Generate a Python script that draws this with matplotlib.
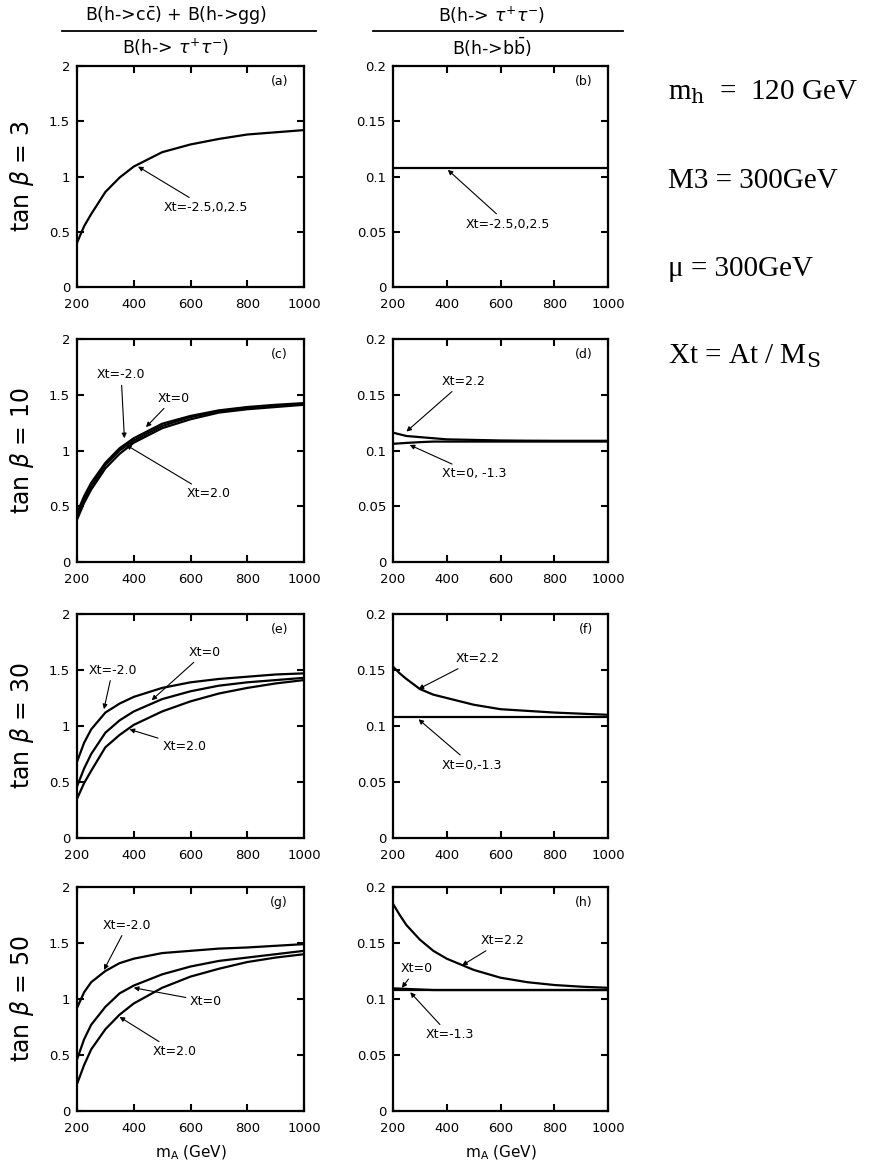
import matplotlib
matplotlib.use("Agg")
import matplotlib.pyplot as plt

plt.rcParams['font.family'] = ['DejaVu Sans']
plt.rcParams['mathtext.fontset'] = 'dejavusans'

# ---------------- data ----------------
m_A = [200, 225, 250, 300, 350, 400, 500, 600, 700, 800, 900, 1000]

# left column: [B(h->cc)+B(h->gg)] / B(h->tau tau)
a_all = [0.40, 0.55, 0.66, 0.86, 0.99, 1.09, 1.22, 1.29, 1.34, 1.38, 1.40, 1.42]

c_xt_m2 = [0.44, 0.59, 0.71, 0.89, 1.02, 1.11, 1.24, 1.31, 1.36, 1.39, 1.41, 1.425]
c_xt_0 = [0.41, 0.56, 0.68, 0.87, 1.00, 1.09, 1.22, 1.30, 1.35, 1.38, 1.40, 1.415]
c_xt_p2 = [0.38, 0.53, 0.65, 0.84, 0.97, 1.07, 1.20, 1.28, 1.34, 1.37, 1.39, 1.41]

e_xt_m2 = [0.68, 0.85, 0.97, 1.12, 1.20, 1.26, 1.34, 1.39, 1.42, 1.44, 1.46, 1.47]
e_xt_0 = [0.46, 0.62, 0.75, 0.94, 1.05, 1.13, 1.24, 1.31, 1.36, 1.39, 1.41, 1.43]
e_xt_p2 = [0.35, 0.49, 0.60, 0.81, 0.92, 1.01, 1.13, 1.22, 1.29, 1.34, 1.38, 1.41]

g_xt_m2 = [0.92, 1.06, 1.15, 1.25, 1.32, 1.36, 1.41, 1.43, 1.45, 1.46, 1.475, 1.49]
g_xt_0 = [0.46, 0.64, 0.77, 0.93, 1.05, 1.12, 1.22, 1.29, 1.34, 1.37, 1.40, 1.43]
g_xt_p2 = [0.24, 0.41, 0.55, 0.73, 0.86, 0.96, 1.10, 1.20, 1.27, 1.33, 1.37, 1.40]

# right column: B(h->tau tau) / B(h->bb)
b_all = [0.108, 0.108, 0.108, 0.108, 0.108, 0.108, 0.108, 0.108, 0.108, 0.108, 0.108, 0.108]

d_xt_22 = [0.116, 0.1145, 0.113, 0.112, 0.111, 0.110, 0.1095, 0.109, 0.1088, 0.1087, 0.1087, 0.1087]
d_xt_0_m13 = [0.106, 0.1064, 0.1068, 0.1075, 0.108, 0.108, 0.108, 0.108, 0.108, 0.108, 0.108, 0.108]

f_xt_22 = [0.153, 0.147, 0.142, 0.133, 0.128, 0.125, 0.119, 0.115, 0.1135, 0.112, 0.111, 0.110]
f_xt_0_m13 = [0.108, 0.108, 0.108, 0.108, 0.108, 0.108, 0.108, 0.108, 0.108, 0.108, 0.108, 0.108]

h_xt_22 = [0.185, 0.175, 0.166, 0.153, 0.143, 0.136, 0.126, 0.119, 0.115, 0.1125, 0.111, 0.110]
h_xt_0 = [0.1095, 0.1093, 0.109, 0.1085, 0.108, 0.108, 0.108, 0.108, 0.108, 0.108, 0.108, 0.108]
h_xt_m13 = [0.108, 0.108, 0.108, 0.108, 0.108, 0.108, 0.108, 0.108, 0.108, 0.108, 0.108, 0.108]

tan_beta = ["3", "10", "30", "50"]
panel_tags = ["(a)", "(b)", "(c)", "(d)", "(e)", "(f)", "(g)", "(h)"]

left_curves = [[a_all], [c_xt_m2, c_xt_0, c_xt_p2], [e_xt_m2, e_xt_0, e_xt_p2], [g_xt_m2, g_xt_0, g_xt_p2]]
right_curves = [[b_all], [d_xt_22, d_xt_0_m13], [f_xt_22, f_xt_0_m13], [h_xt_22, h_xt_0, h_xt_m13]]

# (label, text position, arrow head) per panel
left_notes = [
    [("Xt=-2.5,0,2.5", (505, 0.72), (415, 1.09))],
    [("Xt=-2.0", (270, 1.68), (367, 1.11)),
     ("Xt=0", (485, 1.47), (443, 1.21)),
     ("Xt=2.0", (585, 0.61), (373, 1.05))],
    [("Xt=-2.0", (240, 1.50), (295, 1.15)),
     ("Xt=0", (595, 1.66), (463, 1.23)),
     ("Xt=2.0", (500, 0.82), (385, 0.97))],
    [("Xt=-2.0", (292, 1.66), (295, 1.26)),
     ("Xt=0", (598, 0.98), (400, 1.10)),
     ("Xt=2.0", (468, 0.53), (350, 0.84))],
]
right_notes = [
    [("Xt=-2.5,0,2.5", (470, 0.057), (404, 0.106))],
    [("Xt=2.2", (381, 0.162), (250, 0.117)),
     ("Xt=0, -1.3", (381, 0.079), (262, 0.105))],
    [("Xt=2.2", (432, 0.160), (295, 0.133)),
     ("Xt=0,-1.3", (382, 0.065), (295, 0.106))],
    [("Xt=2.2", (525, 0.152), (457, 0.130)),
     ("Xt=0", (227, 0.127), (233, 0.110)),
     ("Xt=-1.3", (320, 0.068), (264, 0.106))],
]

# ---------------- figure ----------------
fig = plt.figure(figsize=(8.72, 11.70), dpi=100)

W, H = 872.0, 1170.0
row_top = [66, 339, 614, 887]
row_bot = [287, 562, 838, 1111]
lx, lw_ = 77, 227
rx, rw_ = 393, 215


def style_axes(ax, ylim, yticks, ylabels):
    ax.set_xlim(200, 1000)
    ax.set_ylim(*ylim)
    ax.set_xticks([200, 400, 600, 800, 1000])
    ax.set_xticklabels(["200", "400", "600", "800", "1000"])
    ax.set_yticks(yticks)
    ax.set_yticklabels(ylabels)
    ax.tick_params(direction='in', top=True, right=True, length=5, width=1.5,
                   labelsize=9.5)
    ax.tick_params(axis='x', pad=8)
    ax.tick_params(axis='y', pad=5)
    for sp in ax.spines.values():
        sp.set_linewidth(1.6)


def notes(ax, items):
    for txt, pos, head in items:
        ax.annotate(txt, xy=head, xytext=pos, ha='left', va='center', fontsize=9,
                    arrowprops=dict(arrowstyle='-|>', lw=0.8, color='black',
                                    mutation_scale=7, shrinkA=1, shrinkB=0))


for i in range(4):
    b = 1 - row_bot[i] / H
    h = (row_bot[i] - row_top[i]) / H

    axl = fig.add_axes([lx / W, b, lw_ / W, h])
    for ys in left_curves[i]:
        axl.plot(m_A, ys, color='black', lw=1.6)
    style_axes(axl, (0, 2), [0, 0.5, 1, 1.5, 2], ["0", "0.5", "1", "1.5", "2"])
    axl.text(0.93, 0.93, panel_tags[2 * i], transform=axl.transAxes,
             ha='right', va='center', fontsize=9)
    notes(axl, left_notes[i])

    axr = fig.add_axes([rx / W, b, rw_ / W, h])
    for ys in right_curves[i]:
        axr.plot(m_A, ys, color='black', lw=1.6)
    style_axes(axr, (0, 0.2), [0, 0.05, 0.1, 0.15, 0.2], ["0", "0.05", "0.1", "0.15", "0.2"])
    axr.text(0.93, 0.93, panel_tags[2 * i + 1], transform=axr.transAxes,
             ha='right', va='center', fontsize=9)
    notes(axr, right_notes[i])

    fig.text(22 / W, 1 - (row_top[i] + row_bot[i]) / 2 / H, r"tan $\beta$ = " + tan_beta[i],
             rotation=90, ha='center', va='center', fontsize=17)

    if i == 3:
        axl.set_xlabel(r"m$_{\rm A}$ (GeV)", fontsize=11, labelpad=6)
        axr.set_xlabel(r"m$_{\rm A}$ (GeV)", fontsize=11, labelpad=6)

# column headers (fractions)
fig.text(176 / W, 1 - 15 / H, r"B(h->c$\bar{\rm c}$) + B(h->gg)", ha='center', va='center', fontsize=12.5)
fig.add_artist(plt.Line2D([62 / W, 316 / W], [1 - 31 / H, 1 - 31 / H], color='black', lw=1.3))
fig.text(176 / W, 1 - 47 / H, r"B(h-> $\tau^{+}\tau^{-}$)", ha='center', va='center', fontsize=12.5)

fig.text(492 / W, 1 - 15 / H, r"B(h-> $\tau^{+}\tau^{-}$)", ha='center', va='center', fontsize=12.5)
fig.add_artist(plt.Line2D([373 / W, 623 / W], [1 - 31 / H, 1 - 31 / H], color='black', lw=1.3))
fig.text(492 / W, 1 - 47 / H, r"B(h->b$\bar{\rm b}$)", ha='center', va='center', fontsize=12.5)

# parameter box on the right
serif = dict(family='Liberation Serif', fontsize=21, ha='left', va='center')
fig.text(668 / W, 1 - 92 / H, r"m$_{\rm h}$  =  120 GeV", math_fontfamily='dejavuserif', **serif)
fig.text(668 / W, 1 - 181 / H, "M3 = 300GeV", **serif)
fig.text(668 / W, 1 - 269 / H, "\u03bc = 300GeV", **serif)
fig.text(668 / W, 1 - 356 / H, r"Xt = At / M$_{\rm S}$", math_fontfamily='dejavuserif', **serif)

fig.savefig("out.png", dpi=100)
